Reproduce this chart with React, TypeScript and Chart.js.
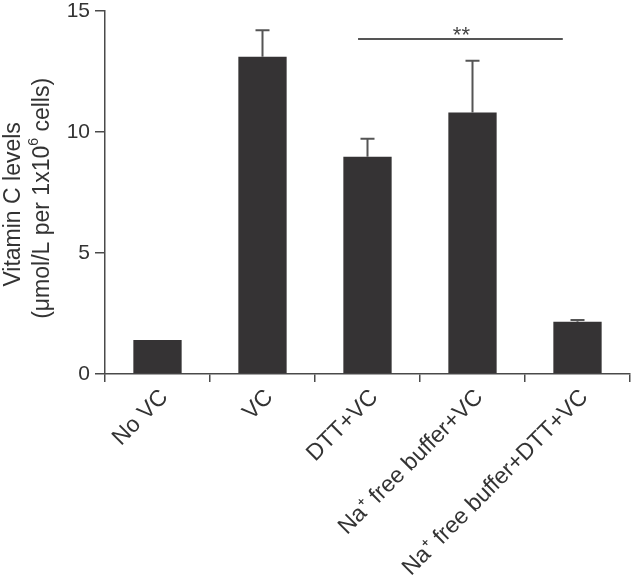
import React, { useEffect, useRef } from "react";
import { Chart, registerables } from "chart.js";

Chart.register(...registerables);

const categories = [
  "No VC",
  "VC",
  "DTT+VC",
  "Na⁺ free buffer+VC",
  "Na⁺ free buffer+DTT+VC",
];
const means = [1.4, 13.1, 8.97, 10.8, 2.16];
const errors = [0, 1.1, 0.75, 2.14, 0.07];
const yTicks = [0, 5, 10, 15];
const sigStart = 1.91;
const sigEnd = 3.86;
const sigLevel = 13.83;
const sigLabel = "**";
const titleLine1 = "Vitamin C levels";
const titleLine2Parts = ["(μmol/L per 1x10", "6", " cells)"];

const FONT = "'Liberation Sans', Arial, Helvetica, sans-serif";
const BAR = "#353334";
const AXIS = "#4a4a4a";

const overlay = {
  id: "overlay",
  afterDatasetsDraw(chart: any) {
    const ctx = chart.ctx;
    const x = chart.scales.x;
    const y = chart.scales.y;
    const meta = chart.getDatasetMeta(0);
    ctx.save();
    ctx.strokeStyle = "#555";
    ctx.lineWidth = 2;
    meta.data.forEach((bar: any, i: number) => {
      const e = errors[i];
      if (!e) return;
      const top = y.getPixelForValue(means[i] + e);
      const base = y.getPixelForValue(means[i]);
      ctx.beginPath();
      ctx.moveTo(bar.x, base);
      ctx.lineTo(bar.x, top);
      ctx.moveTo(bar.x - 7, top);
      ctx.lineTo(bar.x + 7, top);
      ctx.stroke();
    });
    const p0 = x.getPixelForValue(0);
    const step = x.getPixelForValue(1) - p0;
    const xs = p0 + sigStart * step;
    const xe = p0 + sigEnd * step;
    const yl = y.getPixelForValue(sigLevel);
    ctx.beginPath();
    ctx.moveTo(xs, yl);
    ctx.lineTo(xe, yl);
    ctx.stroke();
    ctx.fillStyle = "#444";
    ctx.font = `22px ${FONT}`;
    ctx.textAlign = "center";
    ctx.textBaseline = "alphabetic";
    ctx.fillText(sigLabel, (xs + xe) / 2 + 1, yl + 3);
    ctx.restore();
  },
  afterDraw(chart: any) {
    const ctx = chart.ctx;
    const y = chart.scales.y;
    const cy = (y.top + y.bottom) / 2 + 12;
    ctx.save();
    ctx.fillStyle = "#333";
    ctx.textBaseline = "alphabetic";
    ctx.save();
    ctx.translate(20, cy);
    ctx.rotate(-Math.PI / 2);
    ctx.font = `23px ${FONT}`;
    ctx.textAlign = "center";
    ctx.fillText(titleLine1, 0, 0);
    ctx.restore();
    ctx.save();
    ctx.translate(49, cy - 6);
    ctx.rotate(-Math.PI / 2);
    const big = `23px ${FONT}`;
    const small = `14px ${FONT}`;
    ctx.font = big;
    const w0 = ctx.measureText(titleLine2Parts[0]).width;
    const w2 = ctx.measureText(titleLine2Parts[2]).width;
    ctx.font = small;
    const w1 = ctx.measureText(titleLine2Parts[1]).width;
    let cx = -(w0 + w1 + w2) / 2;
    ctx.textAlign = "left";
    ctx.font = big;
    ctx.fillText(titleLine2Parts[0], cx, 0);
    cx += w0;
    ctx.font = small;
    ctx.fillText(titleLine2Parts[1], cx, -11);
    cx += w1;
    ctx.font = big;
    ctx.fillText(titleLine2Parts[2], cx, 0);
    ctx.restore();
    ctx.restore();
  },
};

export default function App() {
  const ref = useRef<HTMLCanvasElement | null>(null);
  useEffect(() => {
    document.body.style.margin = "0";
    const chart = new Chart(ref.current as HTMLCanvasElement, {
      type: "bar",
      data: {
        labels: categories,
        datasets: [
          {
            data: means,
            backgroundColor: BAR,
            borderWidth: 0,
            categoryPercentage: 1,
            barPercentage: 0.46,
          },
        ],
      },
      options: {
        animation: false,
        responsive: false,
        maintainAspectRatio: false,
        layout: { padding: { top: 0, right: 3, left: 0, bottom: 0 } },
        plugins: {
          legend: { display: false },
          tooltip: { enabled: false },
        },
        scales: {
          x: {
            offset: true,
            grid: {
              offset: true,
              drawOnChartArea: false,
              drawTicks: true,
              tickLength: 8,
              color: AXIS,
              lineWidth: 1.5,
            },
            border: { display: true, color: AXIS, width: 1.5 },
            ticks: {
              minRotation: 45,
              maxRotation: 45,
              autoSkip: false,
              padding: 2,
              labelOffset: 7,
              color: "#333",
              font: { family: FONT, size: 23 },
            },
            afterFit(scale: any) {
              scale.height = 209;
            },
          },
          y: {
            min: 0,
            max: 15,
            afterBuildTicks(scale: any) {
              scale.ticks = yTicks.map((v) => ({ value: v }));
            },
            grid: {
              drawOnChartArea: false,
              drawTicks: true,
              tickLength: 10,
              color: AXIS,
              lineWidth: 1.5,
            },
            border: { display: true, color: AXIS, width: 1.5 },
            ticks: {
              padding: 5,
              color: "#333",
              font: { family: FONT, size: 21, lineHeight: 0.55 },
            },
            afterFit(scale: any) {
              scale.width = 105;
            },
          },
        },
      },
      plugins: [overlay],
    });
    return () => chart.destroy();
  }, []);
  return (
    <div style={{ width: 633, height: 583 }}>
      <canvas ref={ref} width={633} height={583} />
    </div>
  );
}
